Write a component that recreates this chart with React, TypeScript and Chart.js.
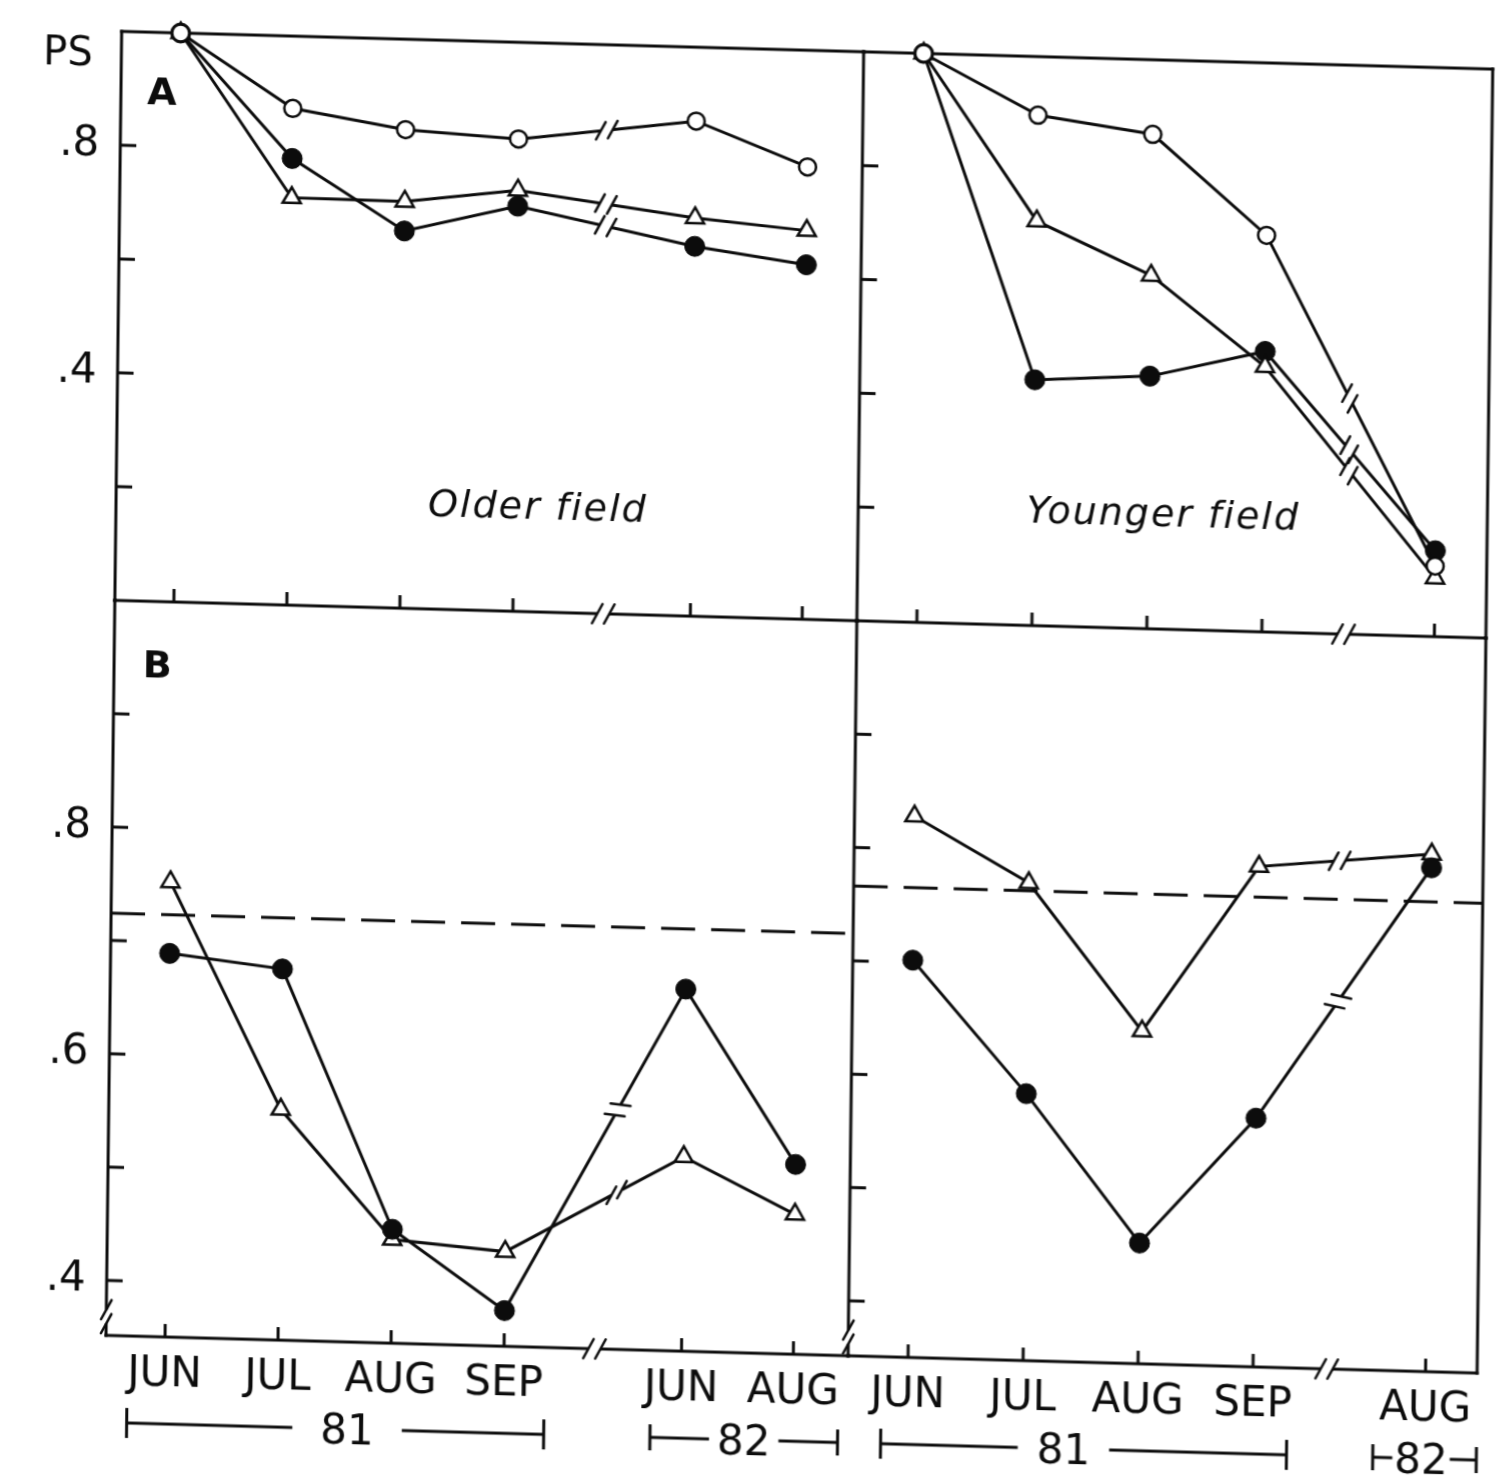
import React, { useEffect, useRef } from 'react';
import { Chart, registerables } from 'chart.js';

Chart.register(...registerables);

// ---------------- data ----------------
const olderMonths = ['JUN', 'JUL', 'AUG', 'SEP', 'JUN', 'AUG'];
const olderPositions = [0, 1, 2, 3, 4.57, 5.56];
const youngerMonths = ['JUN', 'JUL', 'AUG', 'SEP', 'AUG'];
const youngerPositions = [0, 1, 2, 3, 4.5];

// Panel A, older field
const olderA_open = [1.0, 0.873, 0.841, 0.83, 0.87, 0.795];
const olderA_triangle = [1.0, 0.716, 0.715, 0.74, 0.7, 0.683];
const olderA_filled = [1.0, 0.785, 0.663, 0.712, 0.65, 0.623];

// Panel A, younger field
const youngerA_open = [1.0, 0.897, 0.869, 0.697, 0.124];
const youngerA_triangle = [1.0, 0.711, 0.621, 0.466, 0.103];
const youngerA_filled = [1.0, 0.432, 0.444, 0.493, 0.151];

// Panel B, older field
const olderB_triangle = [0.753, 0.555, 0.443, 0.435, 0.523, 0.475];
const olderB_filled = [0.69, 0.679, 0.452, 0.383, 0.671, 0.519];
const olderB_reference = 0.724;

// Panel B, younger field
const youngerB_triangle = [0.829, 0.773, 0.645, 0.793, 0.808];
const youngerB_filled = [0.702, 0.587, 0.458, 0.571, 0.796];
const youngerB_reference = 0.766;

const yTickMarksA = [0.2, 0.4, 0.6, 0.8];
const yTickLabelsA = [0.4, 0.8];
const yTickMarksB = [0.4, 0.5, 0.6, 0.7, 0.8, 0.9];
const yTickLabelsB = [0.4, 0.6, 0.8];

const olderYears = [
  { text: '81', from: -0.33, to: 3.36, at: 1.62 },
  { text: '82', from: 4.3, to: 5.96, at: 5.13 },
];
const youngerYears = [
  { text: '81', from: -0.23, to: 3.3, at: 1.36 },
  { text: '82', from: 4.05, to: 4.95, at: 4.47 },
];

// ---------------- layout & style ----------------
const W = 1510;
const H = 1479;
const INK = '#0c0c0c';
const FAMILY = '"DejaVu Sans", "Liberation Sans", sans-serif';
const SCAN_SKEW = 'matrix(1, 0.0275, -0.012, 1, 0, 0)';
const FRAME_W = 3;
const TICK_Y = 16;
const TICK_X = 13;
const SLASH_ANGLE = (-62 * Math.PI) / 180;
const COL_LEFT = [122, 864];
const COL_RIGHT = [864, 1493];
const ROW_A = [28, 597];
const ROW_B = [597, 1332];
const X_RANGE_OLDER = [-0.522, 6.044];
const X_RANGE_YOUNGER = [-0.522, 4.948];
const Y_RANGE_A = [0, 1];
const Y_RANGE_B = [0.3515, 1];

type Kind = 'open' | 'triangle' | 'filled';

type Panel = {
  key: string;
  cols: number[];
  rows: number[];
  xRange: number[];
  yRange: number[];
  positions: number[];
  months: string[] | null;
  series: [Kind, number[]][];
  reference: number | null;
  yTickMarks: number[];
  yTickLabels: number[] | null;
  edges: string[];
  axisBreak: number;
  lineBreak: number;
  yBreak: number | null;
  texts: { text: string; x: number; y: number; font: string; size: number; spacing?: number }[];
  years: { text: string; from: number; to: number; at: number }[];
  yearGaps: number[];
};

const PANELS: Panel[] = [
  {
    key: 'olderA',
    cols: COL_LEFT,
    rows: ROW_A,
    xRange: X_RANGE_OLDER,
    yRange: Y_RANGE_A,
    positions: olderPositions,
    months: null,
    series: [
      ['open', olderA_open],
      ['triangle', olderA_triangle],
      ['filled', olderA_filled],
    ],
    reference: null,
    yTickMarks: yTickMarksA,
    yTickLabels: yTickLabelsA,
    edges: ['top', 'left', 'bottom'],
    axisBreak: 3.8,
    lineBreak: 3.78,
    yBreak: null,
    texts: [
      { text: 'PS', x: -0.995, y: 0.965, font: '', size: 40 },
      { text: 'A', x: -0.16, y: 0.898, font: 'bold', size: 38 },
      { text: 'Older field', x: 3.21, y: 0.188, font: 'italic', size: 38, spacing: 2 },
    ],
    years: [],
    yearGaps: [],
  },
  {
    key: 'youngerA',
    cols: COL_RIGHT,
    rows: ROW_A,
    xRange: X_RANGE_YOUNGER,
    yRange: Y_RANGE_A,
    positions: youngerPositions,
    months: null,
    series: [
      ['open', youngerA_open],
      ['triangle', youngerA_triangle],
      ['filled', youngerA_filled],
    ],
    reference: null,
    yTickMarks: yTickMarksA,
    yTickLabels: null,
    edges: ['top', 'left', 'right', 'bottom'],
    axisBreak: 3.71,
    lineBreak: 3.74,
    yBreak: null,
    texts: [{ text: 'Younger field', x: 2.13, y: 0.206, font: 'italic', size: 38, spacing: 2 }],
    years: [],
    yearGaps: [],
  },
  {
    key: 'olderB',
    cols: COL_LEFT,
    rows: ROW_B,
    xRange: X_RANGE_OLDER,
    yRange: Y_RANGE_B,
    positions: olderPositions,
    months: olderMonths,
    series: [
      ['filled', olderB_filled],
      ['triangle', olderB_triangle],
    ],
    reference: olderB_reference,
    yTickMarks: yTickMarksB,
    yTickLabels: yTickLabelsB,
    edges: ['left', 'bottom'],
    axisBreak: 3.8,
    lineBreak: 3.98,
    yBreak: 0.368,
    texts: [{ text: 'B', x: -0.14, y: 0.945, font: 'bold', size: 38 }],
    years: olderYears,
    yearGaps: [28, 8],
  },
  {
    key: 'youngerB',
    cols: COL_RIGHT,
    rows: ROW_B,
    xRange: X_RANGE_YOUNGER,
    yRange: Y_RANGE_B,
    positions: youngerPositions,
    months: youngerMonths,
    series: [
      ['filled', youngerB_filled],
      ['triangle', youngerB_triangle],
    ],
    reference: youngerB_reference,
    yTickMarks: yTickMarksB,
    yTickLabels: null,
    edges: ['left', 'right', 'bottom'],
    axisBreak: 3.64,
    lineBreak: 3.7,
    yBreak: 0.368,
    texts: [],
    years: youngerYears,
    yearGaps: [19, 2],
  },
];

function seg(ctx: CanvasRenderingContext2D, x1: number, y1: number, x2: number, y2: number) {
  ctx.beginPath();
  ctx.moveTo(x1, y1);
  ctx.lineTo(x2, y2);
  ctx.stroke();
}

function drawBreak(
  ctx: CanvasRenderingContext2D,
  px: number,
  py: number,
  ux: number,
  uy: number,
  half: number,
  slash: number,
  force: boolean
) {
  ctx.save();
  ctx.globalCompositeOperation = 'destination-out';
  ctx.lineWidth = 9;
  ctx.lineCap = 'butt';
  seg(ctx, px - ux * half, py - uy * half, px + ux * half, py + uy * half);
  ctx.restore();
  let sa = SLASH_ANGLE;
  if (!force) {
    const a = Math.atan2(uy, ux);
    const diff = (((a - sa) % Math.PI) + Math.PI) % Math.PI;
    if (diff < 0.55 || diff > Math.PI - 0.55) sa = a + Math.PI / 2 - 0.4;
  }
  const sx = Math.cos(sa);
  const sy = Math.sin(sa);
  ctx.save();
  ctx.strokeStyle = INK;
  ctx.lineWidth = 2.5;
  ctx.lineCap = 'round';
  [-1, 1].forEach((s) => {
    const cx = px + s * ux * half;
    const cy = py + s * uy * half;
    seg(ctx, cx - sx * slash, cy - sy * slash, cx + sx * slash, cy + sy * slash);
  });
  ctx.restore();
}

function makePlugin(p: Panel) {
  return {
    id: 'panelDecor_' + p.key,
    beforeDatasetsDraw(chart: any) {
      const { ctx, chartArea: a } = chart;
      const xs = chart.scales.x;
      const ys = chart.scales.y;
      ctx.save();
      ctx.strokeStyle = INK;
      ctx.lineWidth = FRAME_W;
      ctx.lineCap = 'square';
      if (p.edges.includes('top')) seg(ctx, a.left, a.top, a.right, a.top);
      if (p.edges.includes('bottom')) seg(ctx, a.left, a.bottom, a.right, a.bottom);
      if (p.edges.includes('left')) seg(ctx, a.left, a.top, a.left, a.bottom);
      if (p.edges.includes('right')) seg(ctx, a.right, a.top, a.right, a.bottom);
      ctx.lineCap = 'butt';
      p.yTickMarks.forEach((v) => {
        const y = ys.getPixelForValue(v);
        seg(ctx, a.left, y, a.left + TICK_Y, y);
      });
      p.positions.forEach((v) => {
        const x = xs.getPixelForValue(v);
        seg(ctx, x, a.bottom, x, a.bottom - TICK_X);
      });
      ctx.restore();
      drawBreak(ctx, xs.getPixelForValue(p.axisBreak), a.bottom, 1, 0, 6, 11, true);
      if (p.yBreak != null) drawBreak(ctx, a.left, ys.getPixelForValue(p.yBreak), 0, -1, 7, 11, true);
    },
    afterDatasetsDraw(chart: any) {
      const { ctx } = chart;
      const xs = chart.scales.x;
      const ys = chart.scales.y;
      p.series.forEach(([, vals]) => {
        for (let k = 0; k < p.positions.length - 1; k++) {
          const x0 = p.positions[k];
          const x1 = p.positions[k + 1];
          if (x0 < p.lineBreak && x1 > p.lineBreak) {
            const ax = xs.getPixelForValue(x0);
            const ay = ys.getPixelForValue(vals[k]);
            const bx = xs.getPixelForValue(x1);
            const by = ys.getPixelForValue(vals[k + 1]);
            const t = (p.lineBreak - x0) / (x1 - x0);
            const px = ax + t * (bx - ax);
            const py = ay + t * (by - ay);
            const len = Math.hypot(bx - ax, by - ay);
            drawBreak(ctx, px, py, (bx - ax) / len, (by - ay) / len, 6, 10, false);
          }
        }
      });
    },
    afterDraw(chart: any) {
      const { ctx, chartArea: a } = chart;
      const xs = chart.scales.x;
      const ys = chart.scales.y;
      ctx.save();
      ctx.fillStyle = INK;
      ctx.strokeStyle = INK;
      ctx.textAlign = 'center';
      ctx.textBaseline = 'alphabetic';
      p.texts.forEach((t) => {
        ctx.font = `${t.font} ${t.size}px ${FAMILY}`.trim();
        (ctx as any).letterSpacing = (t.spacing || 0) + 'px';
        ctx.fillText(t.text, xs.getPixelForValue(t.x), ys.getPixelForValue(t.y) + t.size * 0.365);
      });
      (ctx as any).letterSpacing = '0px';
      // year brackets under the month labels
      const yy = a.bottom + 87;
      ctx.lineWidth = 3;
      ctx.lineCap = 'butt';
      ctx.font = `42px ${FAMILY}`;
      p.years.forEach((b, i) => {
        const x1 = xs.getPixelForValue(b.from);
        const x2 = xs.getPixelForValue(b.to);
        const xc = xs.getPixelForValue(b.at);
        const w = ctx.measureText(b.text).width;
        const gap = p.yearGaps[i];
        const bar = b.text === '81' ? 15 : 13;
        seg(ctx, x1, yy, xc - w / 2 - gap, yy);
        seg(ctx, xc + w / 2 + gap, yy, x2, yy);
        seg(ctx, x1, yy - bar, x1, yy + bar);
        seg(ctx, x2, yy - bar, x2, yy + bar);
        ctx.fillText(b.text, xc, yy + 42 * 0.365);
      });
      ctx.restore();
    },
  };
}

function dataset(kind: Kind, xs: number[], ys: number[]) {
  const base: any = {
    data: xs.map((x, i) => ({ x, y: ys[i] })),
    borderColor: INK,
    borderWidth: 3,
    tension: 0,
    clip: false,
    pointBorderColor: INK,
    pointBorderWidth: 2.5,
    pointHoverRadius: 0,
  };
  if (kind === 'open') return { ...base, pointStyle: 'circle', pointRadius: 8.5, pointBackgroundColor: '#fff' };
  if (kind === 'triangle')
    return { ...base, pointStyle: 'triangle', pointRadius: 10.5, pointBackgroundColor: '#fff' };
  return { ...base, pointStyle: 'circle', pointRadius: 10, pointBorderWidth: 1, pointBackgroundColor: INK };
}

function buildConfig(p: Panel): any {
  const datasets: any[] = p.series.map(([kind, vals]) => dataset(kind, p.positions, vals));
  if (p.reference != null) {
    datasets.push({
      data: [
        { x: p.xRange[0], y: p.reference },
        { x: p.xRange[1], y: p.reference },
      ],
      borderColor: INK,
      borderWidth: 3,
      borderDash: [34, 16],
      pointRadius: 0,
      clip: false,
    });
  }
  const months = p.months;
  const yl = p.yTickLabels;
  const xAxisH = months ? H - p.rows[1] : 0;
  const yAxisW = yl ? p.cols[0] : 0;
  return {
    type: 'line',
    data: { datasets },
    plugins: [makePlugin(p)],
    options: {
      responsive: false,
      animation: false,
      events: [],
      layout: {
        padding: {
          left: p.cols[0] - yAxisW,
          right: W - p.cols[1],
          top: p.rows[0],
          bottom: H - p.rows[1] - xAxisH,
        },
      },
      plugins: { legend: { display: false }, tooltip: { enabled: false } },
      scales: {
        x: {
          type: 'linear',
          min: p.xRange[0],
          max: p.xRange[1],
          display: !!months,
          grid: { display: false, drawTicks: false },
          border: { display: false },
          afterFit: (s: any) => {
            s.height = xAxisH;
            s.paddingLeft = 0;
            s.paddingRight = 0;
            s.paddingTop = 0;
            s.paddingBottom = 0;
          },
          afterBuildTicks: (s: any) => {
            s.ticks = p.positions.map((v) => ({ value: v }));
          },
          ticks: {
            autoSkip: false,
            maxRotation: 0,
            minRotation: 0,
            padding: 13,
            color: INK,
            font: { family: FAMILY, size: 42 },
            callback: (_v: any, i: number) => (months ? months[i] : ''),
          },
        },
        y: {
          type: 'linear',
          position: 'left',
          min: p.yRange[0],
          max: p.yRange[1],
          display: !!yl,
          grid: { display: false, drawTicks: false },
          border: { display: false },
          afterFit: (s: any) => {
            s.width = yAxisW;
            s.paddingLeft = 0;
            s.paddingRight = 0;
            s.paddingTop = 0;
            s.paddingBottom = 0;
          },
          afterBuildTicks: (s: any) => {
            s.ticks = (yl || []).map((v) => ({ value: v }));
          },
          ticks: {
            padding: 21,
            color: INK,
            font: { family: FAMILY, size: 42 },
            callback: (v: any) => '.' + Math.round(Number(v) * 10),
          },
        },
      },
    },
  };
}

export default function App() {
  const refs = useRef<(HTMLCanvasElement | null)[]>([]);
  useEffect(() => {
    const charts = PANELS.map((p, i) => new Chart(refs.current[i] as HTMLCanvasElement, buildConfig(p)));
    return () => charts.forEach((c) => c.destroy());
  }, []);
  return (
    <div
      style={{
        position: 'absolute',
        left: 0,
        top: 0,
        width: W,
        height: H,
        overflow: 'hidden',
        background: '#fff',
      }}
    >
      <div
        style={{
          position: 'absolute',
          left: 0,
          top: 0,
          width: W,
          height: H,
          transform: SCAN_SKEW,
          transformOrigin: '0 0',
        }}
      >
        {PANELS.map((p, i) => (
          <canvas
            key={p.key}
            ref={(el) => {
              refs.current[i] = el;
            }}
            width={W}
            height={H}
            style={{ position: 'absolute', left: 0, top: 0 }}
          />
        ))}
      </div>
    </div>
  );
}
